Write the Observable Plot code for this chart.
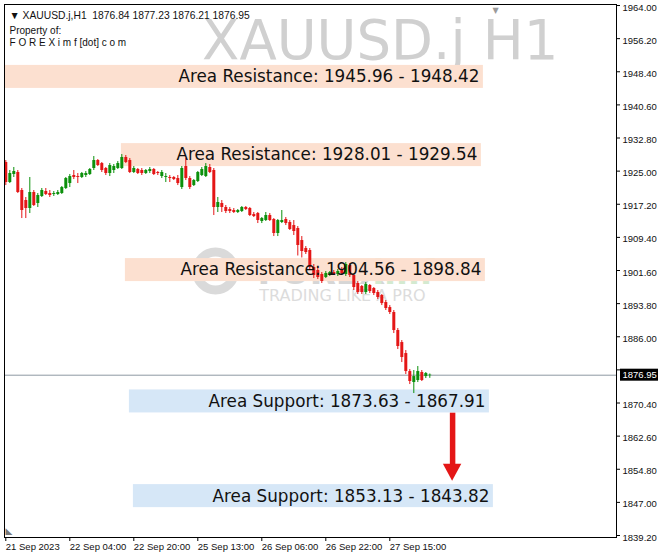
<!DOCTYPE html>
<html><head><meta charset="utf-8">
<script src="https://cdn.jsdelivr.net/npm/d3@7"></script>
<script src="https://cdn.jsdelivr.net/npm/@observablehq/plot@0.6"></script>
<style>html,body{margin:0;padding:0;background:#fff;} #chart svg{display:block}</style>
</head><body><div id="chart"></div>
<script>
// ---- data (H1 bars, index 0 = 21 Sep 2023 11:00) ----
const opens = [1927.03,1922.32,1924.21,1924.68,1920.44,1918.08,1916.20,1919.97,1917.38,1919.03,
 1920.20,1919.73,1919.50,1919.50,1919.73,1920.91,1922.08,1923.97,1923.73,1923.50,
 1923.97,1924.21,1925.62,1927.50,1926.79,1925.62,1924.44,1925.15,1925.62,1925.62,
 1928.21,1927.50,1924.68,1925.38,1925.15,1924.44,1924.91,1925.38,1924.68,1923.73,
 1923.50,1923.50,1923.50,1923.26,1921.14,1926.09,1923.26,1921.61,1922.55,1923.97,
 1923.73,1925.86,1925.15,1916.44,1917.38,1916.44,1915.96,1915.73,1915.26,1915.49,
 1916.44,1916.20,1914.78,1915.02,1913.14,1913.37,1914.55,1913.61,1910.31,1912.90,
 1913.61,1912.90,1912.19,1911.49,1908.66,1906.78,1906.31,1902.31,1901.60,1900.66,
 1899.95,1900.66,1901.13,1900.66,1901.60,1900.66,1902.78,1900.42,1898.54,1897.83,
 1896.42,1898.07,1897.36,1896.42,1895.71,1894.06,1892.88,1891.71,1887.47,1884.64,
 1882.05,1877.81,1875.22,1875.69,1877.58,1876.63,1876.84];
const highs = [1927.50,1925.15,1925.86,1925.15,1920.91,1918.79,1923.50,1920.44,1919.73,1920.91,
 1920.91,1920.44,1920.20,1920.44,1921.38,1923.50,1924.21,1925.15,1924.44,1924.68,
 1924.91,1925.62,1928.44,1927.73,1927.03,1925.86,1926.79,1926.56,1927.26,1928.91,
 1928.68,1927.97,1926.09,1925.62,1925.62,1925.38,1925.86,1925.62,1924.91,1925.15,
 1924.44,1923.97,1923.73,1923.97,1926.09,1927.97,1923.73,1923.02,1924.91,1925.86,
 1926.79,1926.56,1925.62,1918.79,1918.08,1916.91,1916.44,1916.20,1915.96,1916.67,
 1916.67,1916.44,1915.26,1915.26,1914.08,1915.26,1915.02,1913.84,1913.61,1915.73,
 1914.08,1913.37,1913.37,1911.96,1909.60,1907.25,1906.78,1903.01,1902.07,1901.13,
 1901.37,1901.37,1901.60,1901.84,1902.31,1903.48,1903.25,1900.66,1899.01,1898.07,
 1898.77,1898.30,1897.59,1896.89,1895.95,1894.53,1893.35,1892.18,1887.94,1885.11,
 1882.76,1878.28,1878.05,1878.99,1878.05,1877.58,1877.23];
const lows = [1921.61,1922.08,1923.50,1919.73,1913.84,1913.84,1915.02,1916.67,1916.44,1918.79,
 1919.26,1918.79,1919.03,1919.26,1919.50,1920.67,1921.14,1923.02,1922.08,1923.26,
 1923.50,1923.97,1925.15,1926.09,1924.68,1923.97,1923.73,1924.44,1925.38,1925.38,
 1926.79,1924.44,1924.44,1924.21,1923.97,1924.21,1924.44,1923.97,1923.97,1923.26,
 1922.32,1922.32,1922.79,1921.61,1920.67,1922.79,1920.67,1921.38,1922.32,1923.73,
 1923.50,1924.44,1914.55,1915.26,1915.26,1915.02,1915.02,1915.02,1915.02,1915.26,
 1915.73,1914.31,1914.08,1912.66,1912.66,1913.14,1913.14,1909.60,1909.60,1912.66,
 1912.19,1911.02,1909.84,1905.02,1904.55,1905.37,1901.84,1899.71,1899.48,1898.54,
 1899.71,1900.19,1900.42,1900.19,1900.66,1900.19,1899.95,1896.89,1895.95,1895.95,
 1895.95,1896.18,1895.71,1894.77,1893.35,1892.18,1891.24,1886.76,1882.99,1879.93,
 1877.10,1874.75,1872.63,1875.22,1875.46,1876.16,1876.21];
const closes = [1922.32,1924.44,1924.91,1919.97,1915.73,1916.20,1919.97,1916.91,1919.26,1920.44,
 1919.50,1919.26,1919.73,1919.97,1921.14,1923.26,1923.73,1923.50,1923.50,1924.44,
 1924.44,1925.38,1927.50,1926.32,1925.15,1924.44,1926.32,1926.09,1926.79,1928.21,
 1927.03,1924.68,1925.62,1924.44,1924.44,1925.15,1925.38,1924.21,1924.44,1924.68,
 1923.73,1923.26,1923.02,1922.08,1925.62,1923.26,1921.14,1922.79,1924.68,1925.38,
 1926.09,1924.68,1916.44,1917.61,1916.44,1915.49,1915.49,1915.26,1915.73,1916.44,
 1915.96,1914.55,1914.31,1913.37,1913.84,1914.55,1913.37,1910.31,1913.37,1913.37,
 1912.66,1911.25,1910.78,1907.49,1906.07,1905.84,1902.31,1900.42,1899.95,1899.01,
 1900.89,1901.13,1900.66,1901.37,1900.89,1903.01,1900.42,1897.59,1896.42,1896.42,
 1898.30,1896.65,1896.18,1895.24,1893.82,1892.65,1891.71,1887.47,1883.70,1881.11,
 1877.81,1875.46,1876.63,1877.81,1875.69,1877.34,1876.95];

const xTickBars = [0, 16, 32, 48, 64, 80, 96];
const xTickLabels = ["21 Sep 2023","22 Sep 04:00","22 Sep 20:00","25 Sep 13:00","26 Sep 06:00","26 Sep 22:00","27 Sep 15:00"];
const yTicks = [1964.00,1956.20,1948.40,1940.60,1932.80,1925.00,1917.20,1909.40,1901.60,1893.80,1886.00,1878.20,1870.40,1862.60,1854.80,1847.00,1839.20];

const zoneKinds = ["Resistance","Resistance","Resistance","Support","Support"];
const zoneFirst = [1945.96, 1928.01, 1904.56, 1873.63, 1853.13];
const zoneSecond = [1948.42, 1929.54, 1898.84, 1867.91, 1843.82];
const zoneStartBar = [-0.1, 28.9, 29.9, 30.9, 31.9];
const zoneEndBar = [119.4, 118.9, 119.9, 120.9, 121.9];

const arrowBar = 111.7, arrowFrom = 1868.0, arrowTo = 1852.0;
const symbolName = "XAUUSD.j", timeframe = "H1";

// ---- derived tables ----
const GREEN = "#0c900c", RED = "#e41616";
const bars = opens.map((o, i) => ({i, open: o, high: highs[i], low: lows[i], close: closes[i],
  color: closes[i] >= o ? GREEN : RED}));
const last = bars[bars.length - 1];
const zones = zoneKinds.map((k, j) => ({
  kind: k, a: zoneFirst[j], b: zoneSecond[j], mid: (zoneFirst[j] + zoneSecond[j]) / 2,
  start: zoneStartBar[j], end: zoneEndBar[j],
  label: `Area ${k}: ${zoneFirst[j].toFixed(2)} - ${zoneSecond[j].toFixed(2)}`,
  fill: k === "Resistance" ? "#fce0d0" : "#d6e7f7"
}));
const xDomain = [-0.325, 152.675];
const yDomain = [1838.73, 1964.24];
const xTicks = xTickBars.map((b, j) => ({b, label: xTickLabels[j]}));
const headHalf = 2.3, headLen = 4.0;
const head = [
  {x: arrowBar - headHalf, y1: arrowTo + headLen, y2: arrowTo + headLen},
  {x: arrowBar, y1: arrowTo + headLen, y2: arrowTo},
  {x: arrowBar + headHalf, y1: arrowTo + headLen, y2: arrowTo + headLen}
];
const header = `▼ ${symbolName},${timeframe}\u00a0\u00a0${last.open.toFixed(2)} ${last.high.toFixed(2)} ${last.low.toFixed(2)} ${last.close.toFixed(2)}`;

const chart = Plot.plot({
  width: 664, height: 560,
  marginLeft: 4, marginTop: 4, marginRight: 48, marginBottom: 23,
  x: {domain: xDomain, axis: null},
  y: {domain: yDomain, axis: null},
  style: {fontFamily: "'Liberation Sans', Arial, sans-serif", fontSize: "9.5px", background: "white", overflow: "visible"},
  marks: [
    // watermark
    Plot.dot([0], {frameAnchor: "middle", dx: -95, dy: 0, r: 19, stroke: "#dadada", strokeWidth: 9, fill: "none"}),
    Plot.text(["FOREX"], {frameAnchor: "middle", dx: -53, dy: 2, textAnchor: "start", fontSize: 34, fontWeight: "bold", fill: "#d6d6d6", fontFamily: "DejaVu Sans"}),
    Plot.text(["imf"], {frameAnchor: "middle", dx: 62, dy: 2, textAnchor: "start", fontSize: 34, fontWeight: "bold", fill: "#d4ead0", fontFamily: "DejaVu Sans"}),
    Plot.text(["TRADING LIKE A PRO"], {frameAnchor: "middle", dx: 32, dy: 25, fontSize: 16, fill: "#dcdcdc", fontFamily: "DejaVu Sans"}),
    // big symbol title
    Plot.text([`${symbolName} ${timeframe}`], {frameAnchor: "top-right", dx: -58, dy: 16, lineAnchor: "top", textAnchor: "end", fontSize: 54.5, fill: "#d0d0d0", fontFamily: "DejaVu Sans"}),
    // zone boxes
    Plot.rect(zones, {x1: "start", x2: "end", y1: "mid", y2: "mid", insetTop: -11.5, insetBottom: -11.5, fill: "fill"}),
    // current price line
    Plot.ruleY([last.close], {stroke: "#8d98a2", strokeWidth: 1}),
    // candles
    Plot.ruleX(bars, {x: "i", y1: "low", y2: "high", stroke: "color", strokeWidth: 1}),
    Plot.ruleX(bars, {x: "i", y1: "open", y2: "close", stroke: "color", strokeWidth: 3}),
    // zone labels
    Plot.text(zones, {x: "end", y: "mid", text: "label", textAnchor: "end", dx: -4, dy: 0, fontSize: 16.8, fill: "#111", fontFamily: "DejaVu Sans"}),
    // arrow
    Plot.ruleX([arrowBar], {y1: arrowFrom, y2: arrowTo + headLen, insetBottom: -2, stroke: RED, strokeWidth: 5.5}),
    Plot.areaY(head, {x: "x", y1: "y1", y2: "y2", fill: RED, curve: "linear"}),
    // frame
    Plot.frame({stroke: "black"}),
    // chart corner icons
    Plot.text(["▼"], {frameAnchor: "top-left", dx: 488, dy: 3, textAnchor: "start", fontSize: 8, fill: "#9a9a9a", fontFamily: "DejaVu Sans"}),
    Plot.text(["◣"], {frameAnchor: "bottom-left", dx: 1, dy: -4, textAnchor: "start", fontSize: 9, fill: "#777", fontFamily: "DejaVu Sans"}),
    // y axis
    Plot.ruleY(yTicks, {x1: xDomain[1], x2: xDomain[1], insetRight: -4, stroke: "black"}),
    Plot.text(yTicks, {y: d => d, text: d => d.toFixed(2), frameAnchor: "right", textAnchor: "start", dx: 6, dy: 2, fill: "#111"}),
    // x axis
    Plot.ruleX(xTicks, {x: "b", y1: yDomain[0], y2: yDomain[0], insetBottom: -4, stroke: "black"}),
    Plot.text(xTicks, {x: "b", text: "label", frameAnchor: "bottom", textAnchor: "start", dy: 12, fill: "#111"}),
    // last price label
    Plot.rect([last.close], {x1: xDomain[1], x2: xDomain[1], y1: d => d, y2: d => d, insetLeft: 4, insetRight: -42, insetTop: -6, insetBottom: -6, fill: "black"}),
    Plot.text([last.close], {y: d => d, text: d => d.toFixed(2), frameAnchor: "right", textAnchor: "start", dx: 6, fill: "white"}),
    // header
    Plot.text([header], {frameAnchor: "top-left", dx: 5, dy: 7, textAnchor: "start", fontSize: 10.3, fill: "#111"}),
    Plot.text(["Property of:"], {frameAnchor: "top-left", dx: 5, dy: 22, textAnchor: "start", fontSize: 10, fill: "#111"}),
    Plot.text(["F O R E X i m f [dot] c o m"], {frameAnchor: "top-left", dx: 5, dy: 34, textAnchor: "start", fontSize: 10, fill: "#111"})
  ]
});
document.getElementById("chart").appendChild(chart);
</script>
</body></html>
